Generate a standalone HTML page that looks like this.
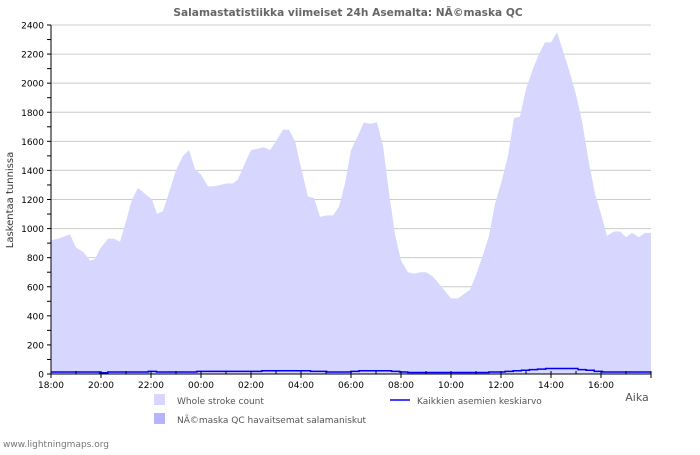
<!DOCTYPE html><html><head><meta charset="utf-8"><style>body{margin:0;background:#fff}svg text{font-family:"DejaVu Sans","Liberation Sans",sans-serif}</style></head><body>
<svg id="s" width="700" height="450" xmlns="http://www.w3.org/2000/svg">
<rect width="700" height="450" fill="#fff"/>
<text x="348" y="16" text-anchor="middle" font-size="10.6" font-weight="bold" fill="#666">Salamastatistiikka viimeiset 24h Asemalta: NÃ©maska QC</text>
<g id="grid"></g>
<path id="area" fill="#d6d6ff"/>
<path id="line" fill="none" stroke="#0000ee" stroke-width="1.5"/>
<line x1="51" y1="25" x2="51" y2="374" stroke="#000"/>
<line x1="51" y1="374" x2="651" y2="374" stroke="#000"/>
<g id="ax" font-size="9" fill="#000"></g>
<text x="13" y="200" font-size="10" fill="#333" text-anchor="middle" transform="rotate(-90 13 200)">Laskentaa tunnissa</text>
<text x="637" y="401" font-size="11" fill="#555" text-anchor="middle">Aika</text>
<rect x="154" y="394" width="11" height="11" fill="#d6d6ff"/>
<text x="177" y="404" font-size="9" fill="#555">Whole stroke count</text>
<rect x="154" y="413" width="11" height="11" fill="#b5b5ff"/>
<text x="177" y="423" font-size="9" fill="#555">NÃ©maska QC havaitsemat salamaniskut</text>
<line x1="390" y1="400" x2="410" y2="400" stroke="#0000ee" stroke-width="1.5"/>
<text x="417" y="404" font-size="9" fill="#555">Kaikkien asemien keskiarvo</text>
<text x="3" y="447" font-size="9" fill="#777">www.lightningmaps.org</text>
</svg>
<script>
var d=[51,920,58,930,66,950,70,960,76,870,83,840,90,780,95,790,100,860,108,930,114,930,120,910,126,1050,132,1200,138,1280,145,1240,152,1200,157,1100,163,1120,170,1270,176,1400,183,1500,189,1540,195,1410,201,1370,208,1290,214,1290,220,1300,226,1310,233,1310,238,1340,245,1450,251,1540,258,1550,264,1560,270,1540,276,1600,283,1680,289,1680,295,1600,301,1420,308,1220,314,1210,320,1080,326,1090,333,1090,339,1150,345,1310,351,1540,358,1640,364,1730,370,1720,377,1730,383,1570,389,1250,395,960,401,780,408,700,414,690,420,700,426,700,433,670,439,620,445,570,451,520,458,520,464,550,470,580,476,680,483,820,489,950,495,1170,501,1310,508,1500,514,1760,520,1770,526,1960,533,2100,539,2200,545,2280,551,2280,557,2350,564,2200,570,2070,576,1920,582,1740,589,1450,595,1240,601,1100,607,950,614,980,620,980,626,940,632,970,639,940,645,970,651,970];
function Y(v){return 374-v*349/2400}
var p="M51,374";for(var i=0;i<d.length;i+=2)p+=" L"+d[i]+","+Y(d[i+1]).toFixed(1);p+=" L651,374Z";
document.getElementById("area").setAttribute("d",p);
var lv=[14,14,14,14,14,14,8,14,14,14,14,14,18,14,14,14,14,14,18,18,18,18,18,18,18,18,22,22,22,22,22,22,18,18,14,14,14,18,22,22,22,22,18,14,10,10,10,10,10,10,10,10,10,10,14,14,18,22,26,30,34,38,38,38,38,30,26,18,14,14,14,14,14,14];
var l="";for(var i=0;i<lv.length;i++){var x=51+i*600/lv.length;l+=(i?" L":"M")+x.toFixed(1)+","+Y(lv[i]).toFixed(1)+" L"+(x+600/lv.length).toFixed(1)+","+Y(lv[i]).toFixed(1);}
document.getElementById("line").setAttribute("d",l);
var g="",a="";
for(var v=0;v<=2400;v+=100){var y=Y(v);if(v%200==0){if(v>0)g+='<line x1="51" y1="'+y+'" x2="651" y2="'+y+'" stroke="#ccc"/>';a+='<text x="44" y="'+(y+3.5)+'" text-anchor="end">'+v+'</text>';}a+='<line x1="47" y1="'+y+'" x2="51" y2="'+y+'" stroke="#000"/>';}
var h=["18:00","20:00","22:00","00:00","02:00","04:00","06:00","08:00","10:00","12:00","14:00","16:00"];
for(var i=0;i<=24;i++){var x=51+i*25;a+='<line x1="'+x+'" y1="371" x2="'+x+'" y2="'+(i%2?374:378)+'" stroke="#000"/>';if(i%2==0&&i<24)a+='<text x="'+x+'" y="388" text-anchor="middle">'+h[i/2]+'</text>';}
document.getElementById("grid").innerHTML=g;document.getElementById("ax").innerHTML=a;
</script></body></html>
